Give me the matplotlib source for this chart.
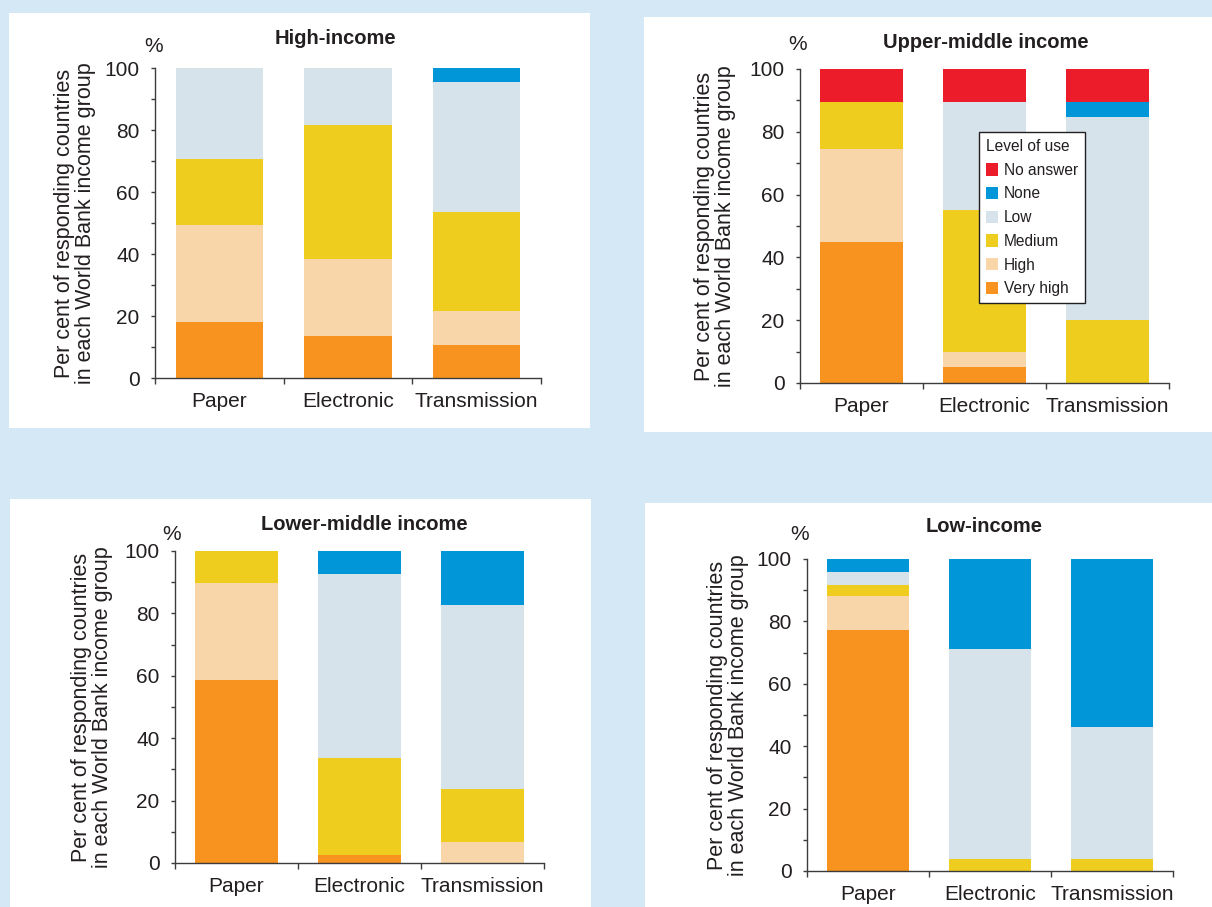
import matplotlib.pyplot as plt
from matplotlib.patches import Rectangle
from matplotlib.ticker import MultipleLocator, FixedLocator
import numpy as np

plt.rcParams['font.family'] = ['Liberation Sans', 'DejaVu Sans']

# data (per cent of responding countries)
categories = ['Paper', 'Electronic', 'Transmission']
levels = ['Very high', 'High', 'Medium', 'Low', 'None', 'No answer']
level_colors = ['#f7931e', '#f8d6aa', '#efcd1f', '#d6e3ea', '#0096d8', '#ec1c2a']

# rows follow `levels`, columns follow `categories`
high_income = [[18.0, 13.6, 10.7],
               [31.5, 24.9, 11.0],
               [21.1, 43.0, 31.7],
               [29.4, 18.5, 42.0],
               [0.0, 0.0, 4.6],
               [0.0, 0.0, 0.0]]
upper_middle = [[45.0, 5.0, 0.0],
                [29.5, 5.0, 0.0],
                [15.1, 45.0, 20.0],
                [0.0, 34.6, 64.6],
                [0.0, 0.0, 5.0],
                [10.4, 10.4, 10.4]]
lower_middle = [[58.5, 2.7, 0.0],
                [31.1, 0.0, 6.8],
                [10.4, 30.8, 16.8],
                [0.0, 59.0, 59.1],
                [0.0, 7.5, 17.3],
                [0.0, 0.0, 0.0]]
low_income = [[77.2, 0.0, 0.0],
              [10.9, 0.0, 0.0],
              [3.7, 3.9, 3.9],
              [4.1, 67.1, 42.2],
              [4.1, 29.0, 53.9],
              [0.0, 0.0, 0.0]]

W, H = 1212, 907
BG = '#d4e8f5'
TXT = '#231f20'
fig = plt.figure(figsize=(W / 100, H / 100), dpi=100, facecolor=BG)


def fx(px):
    return px / W


def fy(py):
    return 1 - py / H


# white panels (x0, y0, x1, y1 in pixels)
panel_boxes = [(9, 13, 590, 428), (644, 17, 1212, 432),
               (10, 499, 591, 907), (645, 503, 1212, 907)]
for x0, y0, x1, y1 in panel_boxes:
    fig.patches.append(Rectangle((fx(x0), fy(y1)), fx(x1 - x0), (y1 - y0) / H,
                                 transform=fig.transFigure, facecolor='white',
                                 edgecolor='none', zorder=-10))

# axes rectangles in pixels: left, right, top, bottom
axes_boxes = [(155, 541, 68, 378), (800, 1169, 69, 383),
              (175, 544, 551, 863), (807, 1173, 559, 871)]
titles = ['High-income', 'Upper-middle income', 'Lower-middle income', 'Low-income']
title_pos = [(335, 39), (986, 42), (364, 525), (984, 527)]
pct_pos = [(154, 46), (798, 44), (172, 535), (800, 535)]
ylab_x = [75, 715, 92, 728]
datasets = [high_income, upper_middle, lower_middle, low_income]

x = np.arange(len(categories)) + 0.5
ylabel = 'Per cent of responding countries\nin each World Bank income group'

for i, data in enumerate(datasets):
    l, r, t, b = axes_boxes[i]
    ax = fig.add_axes([fx(l), fy(b), fx(r - l), (b - t) / H])
    ax.set_facecolor('none')
    bottom = np.zeros(len(categories))
    handles = []
    for lev, col, vals in zip(levels, level_colors, data):
        vals = np.array(vals)
        h = ax.bar(x, vals, width=0.68, bottom=bottom, color=col,
                   edgecolor='none', label=lev)
        handles.append(h)
        bottom += vals
    ax.set_xlim(0, 3)
    ax.set_ylim(0, 100)
    for s in ['top', 'right']:
        ax.spines[s].set_visible(False)
    for s in ['left', 'bottom']:
        ax.spines[s].set_color('#3c3c3c')
        ax.spines[s].set_linewidth(1.0)
    ax.yaxis.set_major_locator(MultipleLocator(20))
    ax.yaxis.set_minor_locator(MultipleLocator(10))
    ax.tick_params(axis='y', which='both', length=3, width=1, color='#3c3c3c',
                   direction='out', labelsize=15, labelcolor=TXT, pad=8)
    ax.xaxis.set_major_locator(FixedLocator([0, 1, 2, 3]))
    ax.xaxis.set_major_formatter(plt.NullFormatter())
    ax.set_xticks(x, categories, minor=True)
    ax.tick_params(axis='x', which='major', length=4, width=1, color='#3c3c3c')
    ax.tick_params(axis='x', which='minor', length=0, labelsize=15,
                   labelcolor=TXT, pad=10)

    fig.text(fx(title_pos[i][0]), fy(title_pos[i][1]), titles[i], fontsize=14.5,
             fontweight='bold', color=TXT, ha='center', va='center')
    fig.text(fx(pct_pos[i][0]), fy(pct_pos[i][1]), '%', fontsize=15,
             color=TXT, ha='center', va='center')
    fig.text(fx(ylab_x[i]), fy((t + b) / 2), ylabel, fontsize=15.5, color=TXT,
             rotation=90, ha='center', va='center', linespacing=1.0)

    if i == 1:
        leg = ax.legend(handles[::-1], levels[::-1], title='Level of use',
                        loc='upper left', bbox_to_anchor=(fx(979), fy(132)),
                        bbox_transform=fig.transFigure, borderaxespad=0,
                        fontsize=11.2, title_fontsize=11.2, alignment='left',
                        frameon=True, fancybox=False, edgecolor='#231f20',
                        framealpha=1, handlelength=0.75, handleheight=0.85,
                        handletextpad=0.4, labelspacing=0.56, borderpad=0.45)
        leg.get_frame().set_linewidth(1.0)
        for txt in leg.get_texts():
            txt.set_color(TXT)
        leg.get_title().set_color(TXT)

fig.savefig('out.png', dpi=100, facecolor=BG)
